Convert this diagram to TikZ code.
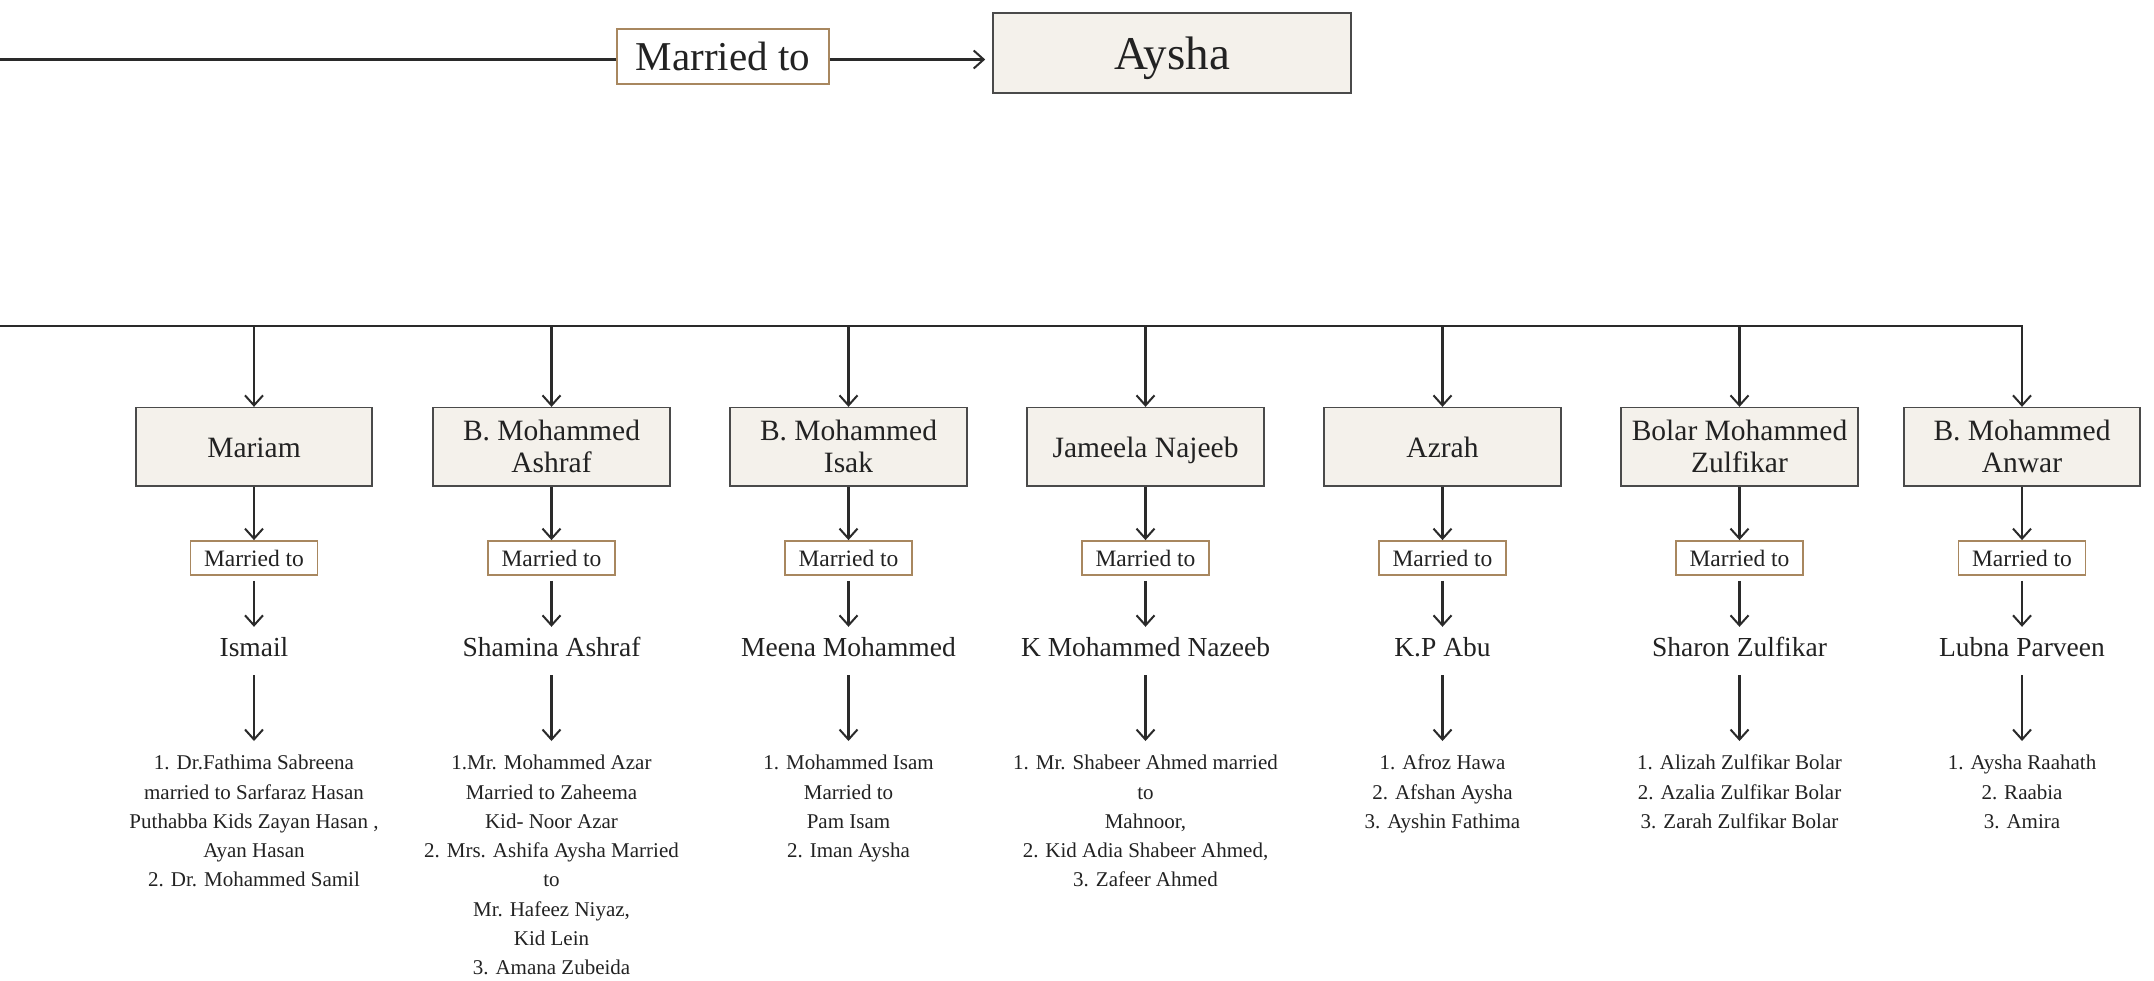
\documentclass[tikz,border=0pt]{standalone}
\usepackage{fontspec}
\setmainfont{Liberation Serif}
\usetikzlibrary{arrows.meta}
\definecolor{boxfill}{HTML}{F4F1EB}
\definecolor{boxline}{HTML}{4A4A4A}
\definecolor{tanline}{HTML}{A8875F}
\definecolor{ink}{HTML}{222222}
\definecolor{wire}{HTML}{2A2A2A}
\newcommand\onel{\rule[-7pt]{0pt}{35pt}}
\newcommand\famcol[5]{%
  \node[person] (p#1) at (#2,446.8) {#3};
  \node[marr] (m#1) at (#2,558) {Married to};
  \node[spouse] (s#1) at (#2,656) {#4};
  \node[kids] (k#1) at (#2,755) {#5};
  \draw[arr] (p#1.south) -- (m#1.north);
  \draw[arr, shorten <=5pt] (m#1.south) -- (s#1.north);
  \draw[arr, shorten <=4pt, shorten >=14pt] (s#1.south) -- (k#1.north);
}
\begin{document}
\begin{tikzpicture}[x=1pt,y=-1pt,
  person/.style={draw=boxline, line width=1.6pt, fill=boxfill, minimum width=236.5pt, minimum height=78.3pt, inner sep=0pt, align=center, text=ink, font=\fontsize{29.5}{32}\selectfont},
  marr/.style={draw=tanline, line width=1.8pt, fill=white, minimum width=127pt, minimum height=34pt, inner sep=0pt, text=ink, font=\fontsize{23.5}{26}\selectfont},
  spouse/.style={text=ink, font=\fontsize{27.5}{30}\selectfont, text height=20pt, text depth=6pt, inner xsep=0pt, inner ysep=9pt, anchor=base},
  kids/.style={text=ink, font=\fontsize{21}{29.3}\selectfont, align=center, inner sep=0pt, anchor=north},
  link/.style={draw=wire, line width=2.2pt},
  arr/.style={link, -{Straight Barb[length=10pt,width=18pt,line width=2pt]}},
]
\useasboundingbox[fill=white] (0,0) rectangle (2154,980);

% top row
\node[person, minimum width=358pt, minimum height=80.3pt, font=\fontsize{47}{50}\selectfont] (aysha) at (1172,52.9) {\rule[-10pt]{0pt}{54pt}Aysha};
\node[marr, minimum width=212pt, minimum height=55pt, font=\fontsize{41}{44}\selectfont] (mtop) at (723,56.5) {Married to};
\coordinate (L) at (0,59.5);
\draw[link] (L) -- (L -| mtop.west);
\draw[arr, shorten >=7pt] (L -| mtop.east) -- (L -| aysha.west);

% columns
\famcol{1}{254}{\onel Mariam}{Ismail}{1. Dr.Fathima Sabreena\\married to Sarfaraz Hasan\\Puthabba Kids Zayan Hasan ,\\Ayan Hasan\\2. Dr. Mohammed Samil}
\famcol{2}{551.5}{B. Mohammed\\Ashraf}{Shamina Ashraf}{1.Mr. Mohammed Azar\\Married to Zaheema\\Kid- Noor Azar\\2. Mrs. Ashifa Aysha Married\\to\\Mr. Hafeez Niyaz,\\Kid Lein\\3. Amana Zubeida}
\famcol{3}{848.5}{B. Mohammed\\Isak}{Meena Mohammed}{1. Mohammed Isam\\Married to\\Pam Isam\\2. Iman Aysha}
\famcol{4}{1145.5}{\onel Jameela Najeeb}{K Mohammed Nazeeb}{1. Mr. Shabeer Ahmed married\\to\\Mahnoor,\\2. Kid Adia Shabeer Ahmed,\\3. Zafeer Ahmed}
\famcol{5}{1442.5}{\onel Azrah}{K.P Abu}{1. Afroz Hawa\\2. Afshan Aysha\\3. Ayshin Fathima}
\famcol{6}{1739.5}{Bolar Mohammed\\Zulfikar}{Sharon Zulfikar}{1. Alizah Zulfikar Bolar\\2. Azalia Zulfikar Bolar\\3. Zarah Zulfikar Bolar}
\famcol{7}{2022}{B. Mohammed\\Anwar}{Lubna Parveen}{1. Aysha Raahath\\2. Raabia\\3. Amira}

% bus line
\coordinate (H) at (0,326);
\draw[arr] (H) -| (p7.north);
\foreach \i in {1,...,6} {
  \draw[arr] (p\i.north |- H) -- (p\i.north);
}
\end{tikzpicture}
\end{document}
